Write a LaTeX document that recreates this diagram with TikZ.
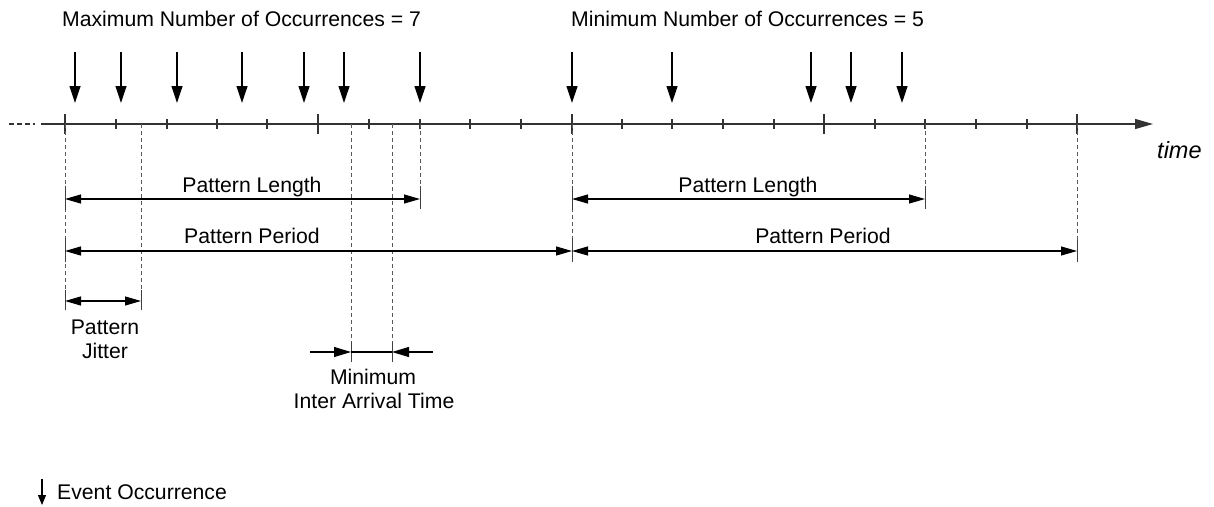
\documentclass[tikz,border=0pt]{standalone}
\usepackage{fontspec}
\setmainfont{Liberation Sans}
\usetikzlibrary{arrows.meta}
\begin{document}
\begin{tikzpicture}[x=1pt,y=-1pt,
 lbl/.style={inner sep=0pt, font=\fontsize{21.2}{24}\selectfont},
 axisline/.style={line width=1.1pt, black!80},
 evarrow/.style={line width=1.2pt, -{Triangle[length=17pt,width=11pt]}},
 dimarrow/.style={line width=1.1pt, {Triangle[length=16pt,width=9pt]}-{Triangle[length=16pt,width=9pt]}},
 onearrow/.style={line width=1.1pt, -{Triangle[length=17pt,width=10pt]}},
 plainline/.style={line width=1.1pt},
 guide/.style={line width=1pt, black!65, dash pattern=on 4pt off 3pt},
 endtick/.style={line width=1pt, black!75}]
\useasboundingbox (0,0) rectangle (1214,506);

% headings
\node[lbl, anchor=base west] (maxt) at (62,27) {Maximum Number of Occurrences = 7};
\node[lbl, anchor=base west] (mint) at (571,27) {Minimum Number of Occurrences = 5};

% event occurrences
\foreach \x in {75,121,177,242,304,344,420,572,672,811,851,902}
  \draw[evarrow] (\x,52) -- (\x,103);

% time axis
\coordinate (axdash0) at (9,124);
\coordinate (axdash1) at (35,124);
\coordinate (axstart) at (41,124);
\coordinate (axend) at (1153,124);
\draw[axisline, dash pattern=on 5pt off 3pt] (axdash0) -- (axdash1);
\draw[axisline, -{Triangle[length=18pt,width=10pt]}] (axstart) -- (axend);
\foreach \x in {65,318,572,824,1077}
  \draw[axisline] (\x,114) -- (\x,134);
\foreach \x in {116,167,217,267,369,420,470,521,622,672,723,774,875,925,976,1027}
  \draw[axisline] (\x,119) -- (\x,129);
\node[lbl, anchor=base west, font=\fontsize{23.5}{26}\selectfont\itshape] (timet) at (1157,158) {time};

% guide lines
\draw[guide] (65,124) -- (65,310);
\draw[guide] (141,124) -- (141,292);
\draw[guide] (351,124) -- (351,344);
\draw[guide] (392,124) -- (392,344);
\draw[guide] (420,124) -- (420,185);
\draw[guide] (572,124) -- (572,262);
\draw[guide] (925,124) -- (925,185);
\draw[guide] (1077,124) -- (1077,240);

% end ticks
\draw[endtick] (65,186) -- (65,210);
\draw[endtick] (65,238) -- (65,262);
\draw[endtick] (65,290) -- (65,310);
\draw[endtick] (141,290) -- (141,310);
\draw[endtick] (420,186) -- (420,209);
\draw[endtick] (572,186) -- (572,210);
\draw[endtick] (572,238) -- (572,262);
\draw[endtick] (925,186) -- (925,209);
\draw[endtick] (1077,240) -- (1077,262);
\draw[endtick] (351,342) -- (351,362);
\draw[endtick] (392,342) -- (392,362);

% dimension arrows
\coordinate (pl1a) at (65,199);  \coordinate (pl1b) at (420,199);
\coordinate (pp1a) at (65,251);  \coordinate (pp1b) at (572,251);
\coordinate (pl2a) at (572,199); \coordinate (pl2b) at (925,199);
\coordinate (pp2a) at (572,251); \coordinate (pp2b) at (1077,251);
\coordinate (pja) at (65,301);   \coordinate (pjb) at (141,301);
\draw[dimarrow] (pl1a) -- (pl1b);
\draw[dimarrow] (pp1a) -- (pp1b);
\draw[dimarrow] (pl2a) -- (pl2b);
\draw[dimarrow] (pp2a) -- (pp2b);
\draw[dimarrow] (pja) -- (pjb);

\coordinate (mia0) at (310,352); \coordinate (mia1) at (351,352);
\coordinate (mia2) at (392,352); \coordinate (mia3) at (433,352);
\draw[onearrow] (mia0) -- (mia1);
\draw[plainline] (mia1) -- (mia2);
\draw[onearrow] (mia3) -- (mia2);

% labels
\node[lbl, anchor=base] (pl1t) at (252,192) {Pattern Length};
\node[lbl, anchor=base] (pp1t) at (252,243) {Pattern Period};
\node[lbl, anchor=base] (pl2t) at (748,192) {Pattern Length};
\node[lbl, anchor=base] (pp2t) at (823,243) {Pattern Period};
\node[lbl, anchor=base] (pjt1) at (105,334) {Pattern};
\node[lbl, anchor=base] (pjt2) at (105,358) {Jitter};
\node[lbl, anchor=base] (miat1) at (373,384) {Minimum};
\node[lbl, anchor=base] (miat2) at (374,408) {Inter Arrival Time};

% legend
\coordinate (lega) at (42,479);
\coordinate (legb) at (42,505);
\draw[line width=1.1pt, -{Triangle[length=10pt,width=8pt]}] (lega) -- (legb);
\node[lbl, anchor=base west] (legt) at (57,499) {Event Occurrence};
\end{tikzpicture}
\end{document}
